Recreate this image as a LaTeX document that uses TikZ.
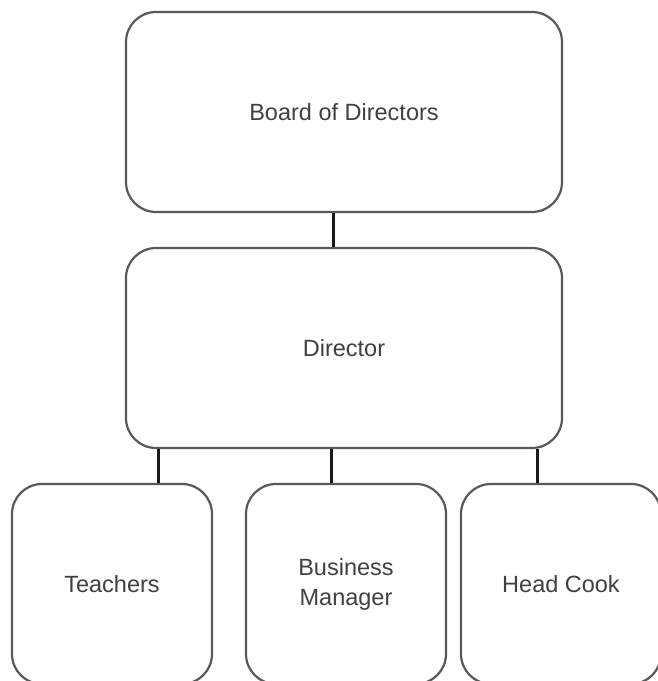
\documentclass[tikz,border=0pt]{standalone}
\usepackage{fontspec}
\setmainfont{Liberation Sans}
\begin{document}
\begin{tikzpicture}[x=1pt,y=-1pt,
  box/.style={draw=black!65, line width=2.2pt, rounded corners=30pt, fill=white,
    inner sep=0pt, align=center, font=\fontsize{23.5}{30}\selectfont, text=black!75},
  big/.style={box, minimum width=436pt, minimum height=200pt},
  small/.style={box, minimum width=200pt, minimum height=200pt},
  link/.style={draw=black!90, line width=3pt}]
\useasboundingbox (0,0) rectangle (658,681);
\node[big] (board) at (344,112) {Board of Directors};
\node[big] (dir) at (344,348) {Director};
\node[small] (teach) at (112,584) {Teachers};
\node[small] (bm) at (346,584) {Business\\Manager};
\node[small] (cook) at (561,584) {Head Cook};
\draw[link] (board.south -| 333,0) -- (dir.north -| 333,0);
\draw[link] (dir.south -| 158,0) -- (teach.north -| 158,0);
\draw[link] (dir.south -| 331,0) -- (bm.north -| 331,0);
\draw[link] (dir.south -| 537,0) -- (cook.north -| 537,0);
\end{tikzpicture}
\end{document}
